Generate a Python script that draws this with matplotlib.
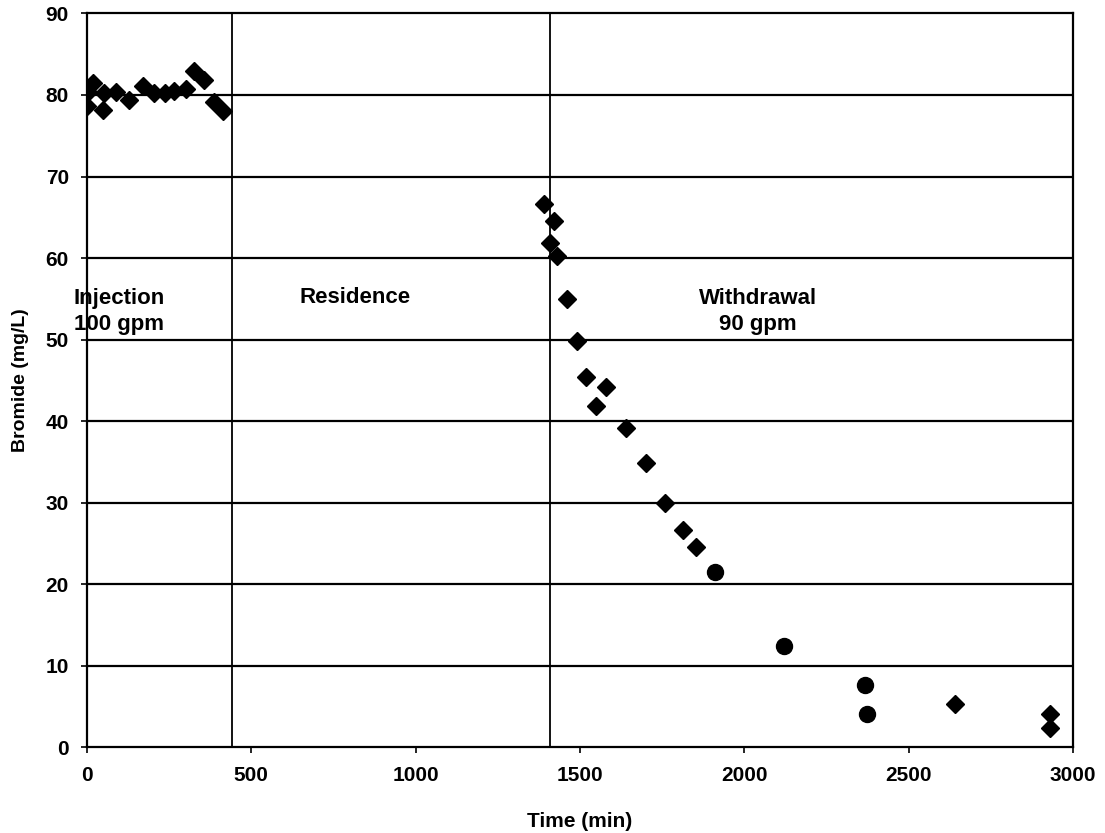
import matplotlib.pyplot as plt

plt.rcParams['font.family'] = ['Liberation Sans', 'DejaVu Sans']
plt.rcParams['font.weight'] = 'bold'

# bromide samples (diamonds)
time_min = [0, 4, 19, 48, 53, 88, 128, 171, 205, 237, 266, 300, 326, 357, 385, 415,
            1389, 1409, 1420, 1431, 1460, 1490, 1519, 1549, 1579, 1640, 1700, 1757,
            1813, 1853, 2641, 2928, 2930]
bromide = [78.6, 80.4, 81.5, 78.2, 80.3, 80.4, 79.4, 81.1, 80.2, 80.3, 80.5, 80.7,
           83.0, 81.9, 79.1, 78.0,
           66.6, 61.9, 64.5, 60.2, 55.0, 49.8, 45.4, 41.8, 44.2, 39.1, 34.9, 29.9,
           26.6, 24.5, 5.3, 4.0, 2.3]

# overlapping samples that print as dots
time_dup = [1911, 2120, 2367, 2372]
bromide_dup = [21.5, 12.4, 7.6, 4.1]

# phase boundaries
phase_edges = [440, 1410]

fig = plt.figure(figsize=(11.05, 8.33), dpi=100)
ax = fig.add_axes([0.0787, 0.1032, 0.8925, 0.8806])

for y in range(10, 90, 10):
    ax.axhline(y, color='black', lw=1.6, zorder=1)
for xe in phase_edges:
    ax.axvline(xe, color='black', lw=1.3, zorder=1)

ax.plot(time_min, bromide, 'D', color='black', ms=9.5, zorder=3)
ax.plot(time_dup, bromide_dup, 'o', color='black', ms=11.5, zorder=3)

ax.set_xlim(0, 3000)
ax.set_ylim(0, 90)
ax.set_xticks(range(0, 3001, 500))
ax.set_yticks(range(0, 91, 10))
ax.tick_params(labelsize=15, direction='out', length=4, width=1.2)
ax.tick_params(axis='x', pad=10)
ax.tick_params(axis='y', pad=9)
for s in ax.spines.values():
    s.set_linewidth(1.6)

ax.set_xlabel('Time (min)', fontsize=15, fontweight='bold', labelpad=19)
ax.set_ylabel('Bromide (mg/L)', fontsize=14, fontweight='bold', labelpad=12)

ax.text(97, 53.4, 'Injection\n100 gpm', fontsize=16, ha='center', va='center', linespacing=1.3)
ax.text(815, 55.1, 'Residence', fontsize=16, ha='center', va='center')
ax.text(2041, 53.4, 'Withdrawal\n90 gpm', fontsize=16, ha='center', va='center', linespacing=1.3)

fig.savefig('out.png', dpi=100)
